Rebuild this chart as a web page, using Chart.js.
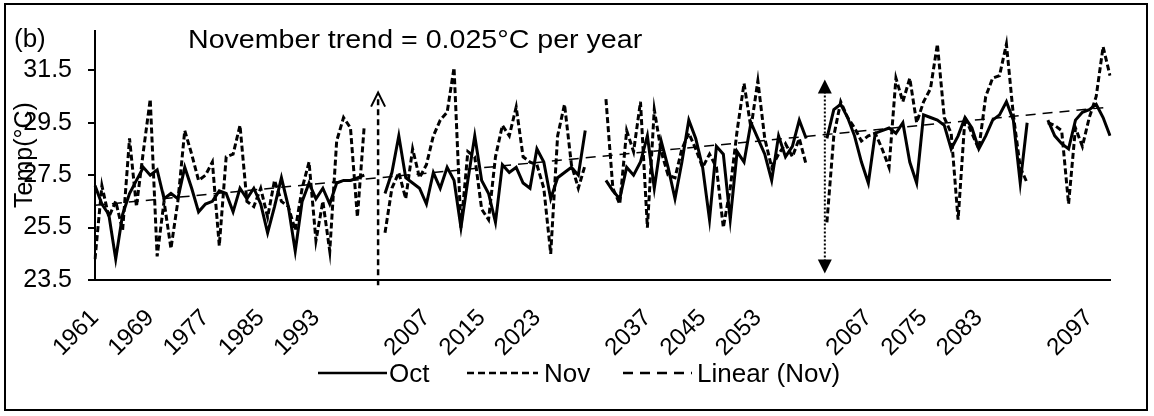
<!DOCTYPE html>
<html>
<head>
<meta charset="utf-8">
<script src="https://cdn.jsdelivr.net/npm/chart.js@4.4.1/dist/chart.umd.min.js"></script>
<style>
  html, body { margin: 0; padding: 0; background: #fff; }
  #wrap { width: 1154px; height: 416px; }
</style>
</head>
<body>
<div id="wrap"><canvas id="tempChart" width="1154" height="416"></canvas></div>
<script>
// ---- data (b) ----
// five blocks of years, Excel left two empty categories between blocks
const years1 = [1961,1962,1963,1964,1965,1966,1967,1968,1969,1970,
                1971,1972,1973,1974,1975,1976,1977,1978,1979,1980,
                1981,1982,1983,1984,1985,1986,1987,1988,1989,1990,
                1991,1992,1993,1994,1995,1996,1997,1998,1999,2000];
const years2 = [2001,2002,2003,2004,2005,2006,2007,2008,2009,2010,
                2011,2012,2013,2014,2015,2016,2017,2018,2019,2020,
                2021,2022,2023,2024,2025,2026,2027,2028,2029,2030];
const years3 = [2031,2032,2033,2034,2035,2036,2037,2038,2039,2040,
                2041,2042,2043,2044,2045,2046,2047,2048,2049,2050,
                2051,2052,2053,2054,2055,2056,2057,2058,2059,2060];
const years4 = [2061,2062,2063,2064,2065,2066,2067,2068,2069,2070,
                2071,2072,2073,2074,2075,2076,2077,2078,2079,2080,
                2081,2082,2083,2084,2085,2086,2087,2088,2089,2090];
const years5 = [2091,2092,2093,2094,2095,2096,2097,2098,2099,2100];

const oct1 = [27.1,26.4,26.0,24.3,26.0,26.8,27.3,27.8,27.5,27.7,
              26.6,26.8,26.6,27.8,27.0,26.1,26.4,26.5,26.9,26.8,
              26.1,27.0,26.6,27.0,26.4,25.3,26.3,27.4,26.3,24.6,
              26.5,27.2,26.6,27.0,26.4,27.2,27.3,27.3,27.4,27.5];
const oct2 = [26.8,27.6,29.0,27.4,27.2,27.0,26.4,27.6,27.0,27.8,
              27.3,25.5,27.3,29.0,27.3,26.8,25.7,27.9,27.6,27.8,
              27.2,27.0,28.5,28.0,26.6,27.4,27.6,27.8,27.5,29.2];
const oct3 = [27.3,26.9,26.6,27.8,27.5,28.0,29.0,27.0,28.8,27.8,
              26.6,28.0,29.6,28.9,27.8,25.8,28.6,28.3,25.8,28.4,
              28.0,29.5,28.9,28.3,27.3,29.0,28.2,28.6,29.6,28.9];
const oct4 = [28.9,30.0,30.2,29.7,29.0,28.0,27.2,29.1,29.2,29.3,
              29.1,29.5,28.0,27.2,29.8,29.7,29.6,29.4,28.5,29.0,
              29.7,29.3,28.5,29.0,29.6,29.8,30.3,29.6,27.2,29.5];
const oct5 = [29.6,29.0,28.7,28.5,29.6,29.9,30.0,30.2,29.7,29.0];

const nov1 = [24.3,27.1,25.9,26.5,25.4,28.9,26.3,28.4,30.4,24.4,
              26.5,24.7,26.5,29.2,28.3,27.3,27.5,28.0,24.8,28.2,
              28.3,29.4,26.5,26.3,27.0,25.9,27.3,26.5,26.3,25.4,
              27.0,28.0,25.0,26.5,24.6,28.8,29.7,29.3,25.9,29.4];
const nov2 = [25.3,27.0,27.6,26.6,28.5,27.4,27.9,29.0,29.6,29.9,
              31.6,25.5,28.4,28.2,26.2,25.8,28.2,29.4,29.0,30.1,
              28.2,28.0,27.9,27.0,24.5,29.0,30.2,27.9,27.0,27.9];
const nov3 = [30.4,27.0,26.4,29.2,28.4,30.3,25.5,30.0,28.4,27.5,
              27.4,28.5,29.1,28.5,27.8,28.3,27.8,25.5,27.0,29.2,
              31.0,29.3,31.1,28.9,27.8,28.3,28.7,28.2,28.9,27.9];
const nov4 = [25.7,29.0,30.3,29.7,29.3,28.8,29.0,29.1,28.5,27.8,
              31.2,30.3,31.2,29.5,30.3,30.8,32.5,29.7,29.1,25.8,
              29.7,29.1,28.5,30.5,31.2,31.3,32.5,29.8,27.8,27.2];
const nov5 = [29.5,29.4,29.2,26.4,29.3,28.6,29.7,30.5,32.4,31.3];

// Linear (Nov) trendline, ends
const trendEnds = [26.35, 30.1];

const xTickYears = [1961,1969,1977,1985,1993,2007,2015,2023,2037,2045,2053,2067,2075,2083,2097];
const yTicks = [23.5, 25.5, 27.5, 29.5, 31.5];

// vertical arrows: [category position, bottom value, top value]
const dashArrow = [41, 23.3, 30.65];
const dotArrow = [105.7, 23.75, 31.15];

// ---- assemble category axis with the empty gap categories ----
const gap = ['', ''];
const nulls = [null, null];
const labels = [...years1, ...gap, ...years2, ...gap, ...years3, ...gap, ...years4, ...gap, ...years5];
const octData = [...oct1, ...nulls, ...oct2, ...nulls, ...oct3, ...nulls, ...oct4, ...nulls, ...oct5];
const novData = [...nov1, ...nulls, ...nov2, ...nulls, ...nov3, ...nulls, ...nov4, ...nulls, ...nov5];
const trendData = labels.map(() => null);
trendData[0] = trendEnds[0];
trendData[trendData.length - 1] = trendEnds[1];

const FONT = "'Liberation Sans', Arial, sans-serif";
Chart.defaults.font.family = FONT;
Chart.defaults.color = '#000';

const decor = {
    id: 'decor',
    beforeDraw(chart) {
        const c = chart.ctx;
        c.save();
        c.fillStyle = '#fff';
        c.fillRect(0, 0, chart.width, chart.height);
        c.restore();
    },
    afterDraw(chart) {
        const ctx = chart.ctx, xs = chart.scales.x, ys = chart.scales.y;
        ctx.save();
        ctx.fillStyle = '#000';
        ctx.strokeStyle = '#000';

        // outer frame
        ctx.lineWidth = 2;
        ctx.strokeRect(5, 4, 1142, 406);

        // panel letter and title
        ctx.textAlign = 'left';
        ctx.textBaseline = 'alphabetic';
        ctx.font = '26px ' + FONT;
        ctx.fillText('(b)', 14, 47);
        ctx.save();
        ctx.translate(188, 48);
        ctx.scale(1.1, 1);
        ctx.font = '26px ' + FONT;
        ctx.fillText('November trend = 0.025°C per year', 0, 0);
        ctx.restore();

        // y axis title, overlapping the tick labels as in the figure
        ctx.save();
        ctx.translate(32, 155);
        ctx.rotate(-Math.PI / 2);
        ctx.textAlign = 'center';
        ctx.font = '25px ' + FONT;
        ctx.fillText('Temp(°C)', 0, 0);
        ctx.restore();

        // legend
        const items = [
            { text: 'Oct', dash: [], x0: 318, x1: 387, tx: 389 },
            { text: 'Nov', dash: [7, 4], x0: 467, x1: 538, tx: 544 },
            { text: 'Linear (Nov)', dash: [10, 7], x0: 623, x1: 692, tx: 697 }
        ];
        ctx.font = '26px ' + FONT;
        items.forEach(it => {
            ctx.beginPath();
            ctx.setLineDash(it.dash);
            ctx.lineWidth = 2.5;
            ctx.moveTo(it.x0, 373);
            ctx.lineTo(it.x1, 373);
            ctx.stroke();
            ctx.setLineDash([]);
            ctx.fillText(it.text, it.tx, 382);
        });

        // dashed arrow with open head
        let x = xs.getPixelForValue(dashArrow[0]);
        let yb = ys.getPixelForValue(dashArrow[1]);
        let yt = ys.getPixelForValue(dashArrow[2]);
        ctx.beginPath();
        ctx.setLineDash([6, 4]);
        ctx.lineWidth = 2.5;
        ctx.moveTo(x, yb);
        ctx.lineTo(x, yt + 2);
        ctx.stroke();
        ctx.setLineDash([]);
        ctx.beginPath();
        ctx.lineWidth = 2;
        ctx.moveTo(x - 7, yt + 14);
        ctx.lineTo(x, yt);
        ctx.lineTo(x + 7, yt + 14);
        ctx.stroke();

        // dotted double arrow with filled heads
        x = xs.getPixelForValue(dotArrow[0]);
        yb = ys.getPixelForValue(dotArrow[1]);
        yt = ys.getPixelForValue(dotArrow[2]);
        ctx.beginPath();
        ctx.setLineDash([2, 2]);
        ctx.lineWidth = 2;
        ctx.moveTo(x, yt + 12);
        ctx.lineTo(x, yb - 12);
        ctx.stroke();
        ctx.setLineDash([]);
        ctx.beginPath();
        ctx.moveTo(x, yt);
        ctx.lineTo(x - 7, yt + 14);
        ctx.lineTo(x + 7, yt + 14);
        ctx.closePath();
        ctx.fill();
        ctx.beginPath();
        ctx.moveTo(x, yb);
        ctx.lineTo(x - 7, yb - 14);
        ctx.lineTo(x + 7, yb - 14);
        ctx.closePath();
        ctx.fill();

        ctx.restore();
    }
};

const tempCtx = document.getElementById('tempChart');

new Chart(tempCtx, {
    type: 'line',
    data: {
        labels: labels,
        datasets: [{
            label: 'Oct',
            data: octData,
            borderColor: '#000',
            borderWidth: 3,
            pointRadius: 0,
            tension: 0,
            spanGaps: false
        }, {
            label: 'Nov',
            data: novData,
            borderColor: '#000',
            borderWidth: 3,
            borderDash: [6, 3],
            pointRadius: 0,
            tension: 0,
            spanGaps: false
        }, {
            label: 'Linear (Nov)',
            data: trendData,
            borderColor: '#000',
            borderWidth: 1.5,
            borderDash: [10, 7],
            pointRadius: 0,
            spanGaps: true
        }]
    },
    options: {
        responsive: false,
        animation: false,
        devicePixelRatio: 1,
        layout: { padding: { left: 10, right: 44, top: 28, bottom: 0 } },
        plugins: {
            legend: { display: false },
            tooltip: { enabled: false }
        },
        scales: {
            x: {
                grid: { display: false },
                border: { display: true, color: '#000', width: 2 },
                ticks: {
                    autoSkip: false,
                    minRotation: 45,
                    maxRotation: 45,
                    padding: 16,
                    font: { size: 24 },
                    color: '#000',
                    callback: function (value) {
                        const lab = this.getLabelForValue(value);
                        return xTickYears.includes(Number(lab)) ? String(lab) : '';
                    }
                },
                afterFit: s => { s.height = 136; }
            },
            y: {
                min: 23.5,
                max: 33,
                afterBuildTicks: s => { s.ticks = yTicks.map(v => ({ value: v })); },
                grid: { drawOnChartArea: false, drawTicks: true, tickLength: 7, color: '#000', lineWidth: 2 },
                border: { display: true, color: '#000', width: 2 },
                ticks: { padding: 16, font: { size: 25 }, color: '#000' },
                afterFit: s => { s.width = 85; }
            }
        }
    },
    plugins: [decor]
});
</script>
</body>
</html>
